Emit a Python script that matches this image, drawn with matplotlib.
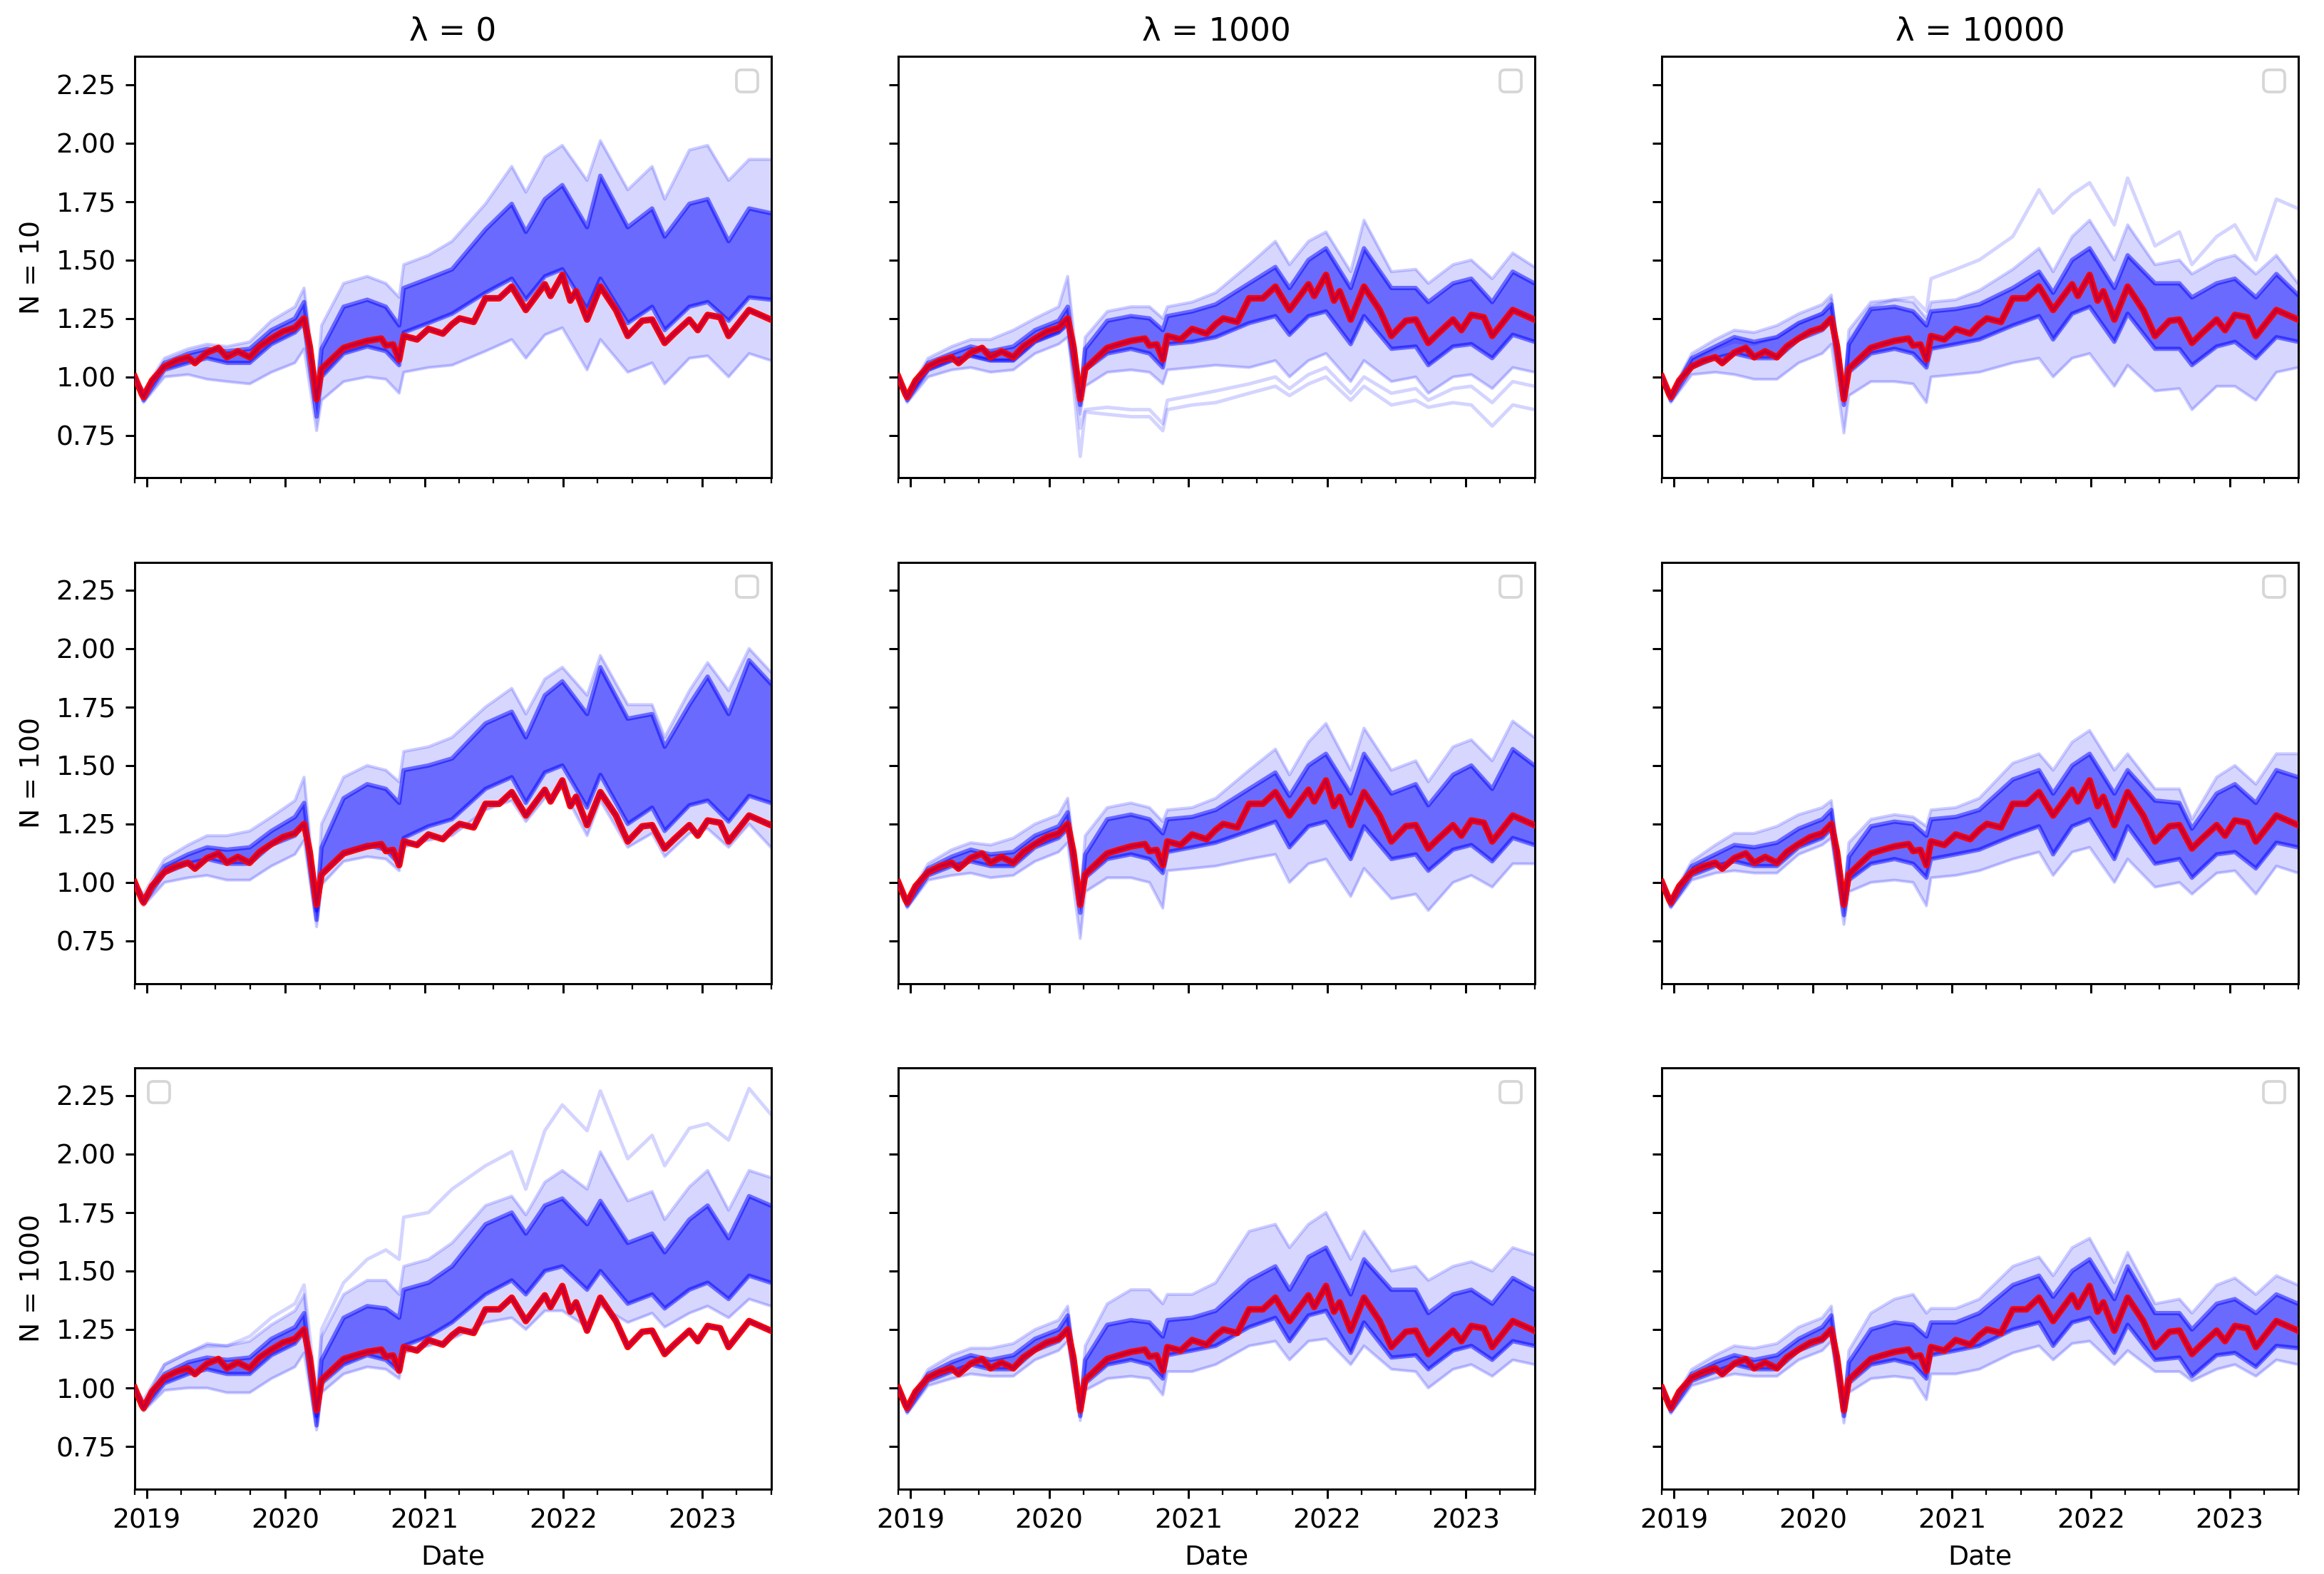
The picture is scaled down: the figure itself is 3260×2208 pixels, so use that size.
import matplotlib
matplotlib.use("Agg")
import matplotlib.pyplot as plt
import matplotlib.ticker as mticker
import pandas as pd

# ---------------- data ----------------
lambdas = ["0", "1000", "10000"]
n_values = ["10", "100", "1000"]
year_labels = ["2019", "2020", "2021", "2022", "2023"]
y_ticks = [0.75, 1.00, 1.25, 1.50, 1.75, 2.00, 2.25]

bench_dates = ["2018-12-01", "2018-12-20", "2018-12-24", "2019-01-15", "2019-02-17", "2019-03-20",
               "2019-04-20", "2019-05-08", "2019-06-09", "2019-07-09", "2019-07-31", "2019-08-29",
               "2019-09-29", "2019-10-25", "2019-11-25", "2019-12-26", "2020-01-26", "2020-02-19",
               "2020-03-05", "2020-03-23", "2020-04-05", "2020-05-07", "2020-06-02", "2020-07-02",
               "2020-08-03", "2020-09-09", "2020-09-21", "2020-10-10", "2020-10-26", "2020-11-07",
               "2020-12-12", "2021-01-11", "2021-02-18", "2021-03-14", "2021-04-03", "2021-05-10",
               "2021-06-10", "2021-07-16", "2021-08-18", "2021-09-24", "2021-11-13", "2021-11-28",
               "2021-12-29", "2022-01-19", "2022-02-03", "2022-03-04", "2022-04-08", "2022-05-19",
               "2022-06-19", "2022-07-27", "2022-08-22", "2022-09-24", "2022-10-19", "2022-11-28",
               "2022-12-20", "2023-01-15", "2023-02-17", "2023-03-11", "2023-05-04", "2023-06-30"]
bench_values = [1.000, 0.925, 0.914, 0.984, 1.044, 1.069, 1.084, 1.059, 1.104, 1.124, 1.084, 1.109,
                1.084, 1.130, 1.164, 1.194, 1.210, 1.250, 1.130, 0.905, 1.034, 1.084, 1.124, 1.139,
                1.154, 1.164, 1.134, 1.139, 1.074, 1.175, 1.160, 1.205, 1.185, 1.225, 1.250, 1.235,
                1.336, 1.336, 1.386, 1.286, 1.396, 1.346, 1.436, 1.326, 1.366, 1.245, 1.386, 1.286,
                1.175, 1.240, 1.245, 1.145, 1.185, 1.245, 1.200, 1.265, 1.255, 1.175, 1.286, 1.245]

grid_dates = ["2018-12-01", "2018-12-24", "2019-02-17", "2019-04-20", "2019-06-09", "2019-07-31",
              "2019-09-29", "2019-11-25", "2020-01-26", "2020-02-19", "2020-03-23", "2020-04-05",
              "2020-06-02", "2020-08-03", "2020-09-21", "2020-10-26", "2020-11-07", "2021-01-11",
              "2021-03-14", "2021-06-10", "2021-08-18", "2021-09-24", "2021-11-13", "2021-12-29",
              "2022-03-04", "2022-04-08", "2022-06-19", "2022-08-22", "2022-09-24", "2022-11-28",
              "2023-01-15", "2023-03-11", "2023-05-04", "2023-06-30"]

# lambda = 0, N = 10
p00_hi_out = [1.00,0.94,1.08,1.12,1.14,1.13,1.15,1.24,1.30,1.38,0.95,1.22,1.40,1.43,1.40,1.34,1.48,1.52,1.58,1.74,1.90,1.79,1.94,1.99,1.84,2.01,1.80,1.90,1.76,1.97,1.99,1.84,1.93,1.93]
p00_hi_core = [1.00,0.93,1.06,1.10,1.12,1.11,1.12,1.20,1.25,1.32,0.90,1.12,1.30,1.33,1.30,1.22,1.38,1.42,1.46,1.63,1.74,1.62,1.76,1.82,1.64,1.86,1.64,1.72,1.60,1.74,1.76,1.58,1.72,1.70]
p00_lo_core = [1.00,0.90,1.03,1.06,1.08,1.06,1.06,1.14,1.19,1.23,0.83,1.00,1.10,1.13,1.11,1.05,1.19,1.23,1.27,1.36,1.42,1.33,1.43,1.46,1.29,1.42,1.23,1.30,1.20,1.30,1.32,1.24,1.34,1.33]
p00_lo_out = [1.00,0.89,1.00,1.01,0.99,0.98,0.97,1.02,1.06,1.12,0.77,0.90,0.98,1.00,0.99,0.93,1.02,1.04,1.05,1.11,1.16,1.08,1.18,1.21,1.03,1.16,1.02,1.06,0.97,1.08,1.09,1.00,1.10,1.07]

# lambda = 0, N = 100
p10_hi_out = [1.00,0.95,1.10,1.16,1.20,1.20,1.22,1.28,1.35,1.45,0.90,1.25,1.45,1.50,1.48,1.43,1.56,1.58,1.62,1.75,1.83,1.72,1.87,1.92,1.80,1.97,1.76,1.76,1.62,1.82,1.94,1.82,2.00,1.90]
p10_hi_core = [1.00,0.93,1.07,1.12,1.15,1.14,1.15,1.22,1.28,1.34,0.88,1.15,1.36,1.42,1.40,1.34,1.48,1.50,1.53,1.68,1.73,1.62,1.80,1.86,1.72,1.92,1.70,1.72,1.58,1.76,1.88,1.72,1.95,1.85]
p10_lo_core = [1.00,0.91,1.04,1.08,1.10,1.08,1.08,1.16,1.20,1.25,0.84,1.03,1.13,1.16,1.14,1.08,1.19,1.24,1.27,1.40,1.45,1.34,1.47,1.50,1.32,1.46,1.25,1.32,1.22,1.33,1.35,1.26,1.37,1.34]
p10_lo_out = [1.00,0.90,1.00,1.02,1.03,1.01,1.01,1.07,1.12,1.18,0.81,0.99,1.09,1.11,1.10,1.05,1.15,1.18,1.20,1.31,1.35,1.26,1.36,1.40,1.20,1.35,1.15,1.21,1.11,1.21,1.23,1.15,1.25,1.15]

# lambda = 0, N = 1000
p20_hi_out = [1.00,0.95,1.10,1.15,1.19,1.18,1.20,1.27,1.33,1.40,0.90,1.22,1.40,1.46,1.46,1.40,1.52,1.55,1.62,1.78,1.82,1.74,1.88,1.93,1.85,2.01,1.80,1.84,1.72,1.86,1.93,1.76,1.93,1.90]
p20_hi_core = [1.00,0.93,1.06,1.11,1.13,1.12,1.13,1.21,1.26,1.32,0.88,1.12,1.30,1.35,1.34,1.30,1.42,1.45,1.52,1.70,1.75,1.66,1.78,1.81,1.70,1.80,1.62,1.66,1.58,1.72,1.78,1.64,1.82,1.78]
p20_lo_core = [1.00,0.91,1.02,1.06,1.08,1.06,1.06,1.14,1.19,1.24,0.84,1.02,1.10,1.14,1.12,1.07,1.18,1.22,1.28,1.40,1.46,1.40,1.50,1.52,1.42,1.50,1.36,1.40,1.34,1.42,1.45,1.38,1.48,1.45]
p20_lo_out = [1.00,0.90,0.99,1.00,1.00,0.98,0.98,1.04,1.09,1.15,0.82,0.98,1.06,1.09,1.08,1.04,1.15,1.18,1.21,1.28,1.30,1.25,1.33,1.33,1.26,1.35,1.28,1.32,1.26,1.32,1.35,1.30,1.38,1.35]
p20_top_path = [1.00,0.93,1.10,1.15,1.18,1.18,1.22,1.30,1.36,1.44,0.96,1.25,1.45,1.55,1.59,1.55,1.73,1.75,1.85,1.95,2.01,1.85,2.10,2.21,2.10,2.27,1.98,2.08,1.95,2.11,2.13,2.06,2.28,2.17]

# lambda = 1000, N = 10
p01_hi_out = [1.00,0.93,1.08,1.13,1.16,1.16,1.20,1.25,1.30,1.43,0.93,1.17,1.28,1.30,1.30,1.25,1.30,1.32,1.36,1.48,1.58,1.48,1.58,1.62,1.45,1.67,1.45,1.46,1.40,1.48,1.50,1.42,1.53,1.47]
p01_hi_core = [1.00,0.92,1.06,1.10,1.13,1.11,1.13,1.20,1.24,1.30,0.91,1.12,1.24,1.26,1.25,1.20,1.26,1.28,1.31,1.40,1.47,1.38,1.50,1.55,1.38,1.55,1.38,1.38,1.32,1.40,1.42,1.32,1.45,1.40]
p01_lo_core = [1.00,0.90,1.03,1.07,1.09,1.07,1.07,1.15,1.19,1.23,0.88,1.03,1.10,1.12,1.10,1.04,1.14,1.15,1.17,1.23,1.26,1.18,1.26,1.28,1.14,1.26,1.12,1.13,1.05,1.13,1.14,1.08,1.18,1.15]
p01_lo_out = [1.00,0.89,1.00,1.03,1.04,1.02,1.03,1.10,1.14,1.17,0.84,0.96,1.02,1.03,1.02,0.97,1.03,1.04,1.05,1.04,1.07,1.00,1.07,1.10,0.98,1.07,0.98,1.00,0.93,1.00,1.01,0.95,1.04,1.02]
p01_low_path_a = [1.00,0.91,1.03,1.07,1.09,1.07,1.07,1.15,1.19,1.22,0.66,0.85,0.84,0.83,0.83,0.77,0.86,0.88,0.89,0.93,0.96,0.92,0.97,1.00,0.90,0.96,0.88,0.90,0.87,0.89,0.88,0.79,0.88,0.86]
p01_low_path_b = [1.00,0.91,1.03,1.07,1.09,1.07,1.07,1.15,1.19,1.22,0.78,0.86,0.87,0.86,0.86,0.80,0.90,0.92,0.94,0.97,1.00,0.95,1.01,1.04,0.93,1.00,0.93,0.95,0.90,0.95,0.96,0.89,0.98,0.96]

# lambda = 1000, N = 100
p11_hi_out = [1.00,0.93,1.08,1.14,1.17,1.16,1.19,1.25,1.29,1.36,0.92,1.20,1.32,1.34,1.32,1.26,1.31,1.32,1.36,1.48,1.57,1.46,1.60,1.68,1.48,1.66,1.48,1.52,1.43,1.58,1.61,1.52,1.69,1.62]
p11_hi_core = [1.00,0.92,1.06,1.11,1.14,1.12,1.13,1.20,1.24,1.30,0.90,1.12,1.27,1.29,1.27,1.21,1.27,1.28,1.31,1.40,1.47,1.37,1.50,1.55,1.38,1.55,1.38,1.42,1.33,1.46,1.50,1.40,1.57,1.50]
p11_lo_core = [1.00,0.90,1.03,1.07,1.09,1.07,1.07,1.15,1.19,1.23,0.87,1.02,1.10,1.12,1.10,1.04,1.13,1.15,1.17,1.22,1.26,1.15,1.24,1.26,1.10,1.24,1.10,1.12,1.05,1.14,1.16,1.09,1.19,1.16]
p11_lo_out = [1.00,0.89,1.01,1.03,1.04,1.02,1.03,1.09,1.13,1.17,0.76,0.96,1.02,1.02,1.00,0.89,1.05,1.06,1.07,1.10,1.12,1.00,1.08,1.10,0.94,1.06,0.93,0.95,0.88,1.00,1.03,0.98,1.08,1.08]

# lambda = 1000, N = 1000
p21_hi_out = [1.00,0.93,1.08,1.14,1.17,1.17,1.19,1.25,1.29,1.35,0.92,1.18,1.36,1.42,1.42,1.36,1.40,1.40,1.45,1.67,1.70,1.60,1.70,1.75,1.55,1.67,1.50,1.52,1.46,1.52,1.54,1.50,1.60,1.57]
p21_hi_core = [1.00,0.92,1.06,1.11,1.14,1.12,1.14,1.21,1.25,1.31,0.91,1.12,1.27,1.29,1.28,1.22,1.29,1.30,1.33,1.46,1.52,1.42,1.56,1.60,1.40,1.55,1.42,1.42,1.32,1.40,1.42,1.36,1.47,1.42]
p21_lo_core = [1.00,0.90,1.03,1.07,1.10,1.08,1.08,1.16,1.20,1.24,0.88,1.02,1.10,1.12,1.10,1.04,1.14,1.16,1.18,1.26,1.30,1.20,1.31,1.33,1.15,1.28,1.13,1.14,1.08,1.16,1.18,1.12,1.20,1.18]
p21_lo_out = [1.00,0.89,1.01,1.04,1.06,1.05,1.05,1.12,1.16,1.20,0.86,0.99,1.04,1.05,1.04,0.97,1.07,1.07,1.10,1.18,1.20,1.12,1.20,1.21,1.10,1.18,1.08,1.07,1.00,1.08,1.10,1.05,1.12,1.10]

# lambda = 10000, N = 10
p02_hi_out = [1.00,0.93,1.10,1.16,1.20,1.19,1.22,1.27,1.31,1.35,0.93,1.20,1.32,1.33,1.32,1.25,1.32,1.33,1.37,1.46,1.55,1.45,1.60,1.67,1.50,1.65,1.48,1.50,1.44,1.50,1.52,1.44,1.52,1.40]
p02_hi_core = [1.00,0.92,1.08,1.13,1.17,1.15,1.17,1.23,1.27,1.31,0.91,1.14,1.29,1.30,1.28,1.22,1.28,1.29,1.31,1.38,1.45,1.36,1.50,1.55,1.38,1.52,1.40,1.40,1.34,1.40,1.42,1.34,1.44,1.35]
p02_lo_core = [1.00,0.90,1.04,1.08,1.10,1.08,1.08,1.16,1.20,1.24,0.88,1.02,1.10,1.12,1.10,1.04,1.12,1.14,1.16,1.22,1.26,1.16,1.27,1.30,1.15,1.27,1.12,1.12,1.05,1.13,1.15,1.08,1.17,1.15]
p02_lo_out = [1.00,0.89,1.01,1.02,1.01,0.99,0.99,1.06,1.10,1.14,0.76,0.92,0.98,0.98,0.97,0.89,1.00,1.01,1.02,1.06,1.08,1.00,1.08,1.10,0.96,1.05,0.94,0.95,0.86,0.96,0.96,0.90,1.02,1.04]
p02_top_path = [1.00,0.92,1.07,1.12,1.15,1.14,1.17,1.23,1.27,1.33,0.92,1.15,1.30,1.33,1.34,1.28,1.42,1.46,1.50,1.60,1.80,1.70,1.78,1.83,1.65,1.85,1.56,1.62,1.48,1.60,1.65,1.50,1.76,1.72]

# lambda = 10000, N = 100
p12_hi_out = [1.00,0.93,1.09,1.16,1.21,1.21,1.24,1.29,1.32,1.35,0.92,1.17,1.27,1.29,1.28,1.24,1.31,1.32,1.36,1.51,1.55,1.48,1.60,1.65,1.48,1.55,1.40,1.40,1.27,1.45,1.50,1.42,1.55,1.55]
p12_hi_core = [1.00,0.92,1.07,1.12,1.16,1.15,1.17,1.23,1.27,1.31,0.90,1.11,1.24,1.26,1.25,1.20,1.27,1.28,1.31,1.44,1.48,1.38,1.50,1.55,1.38,1.48,1.35,1.34,1.23,1.38,1.42,1.34,1.48,1.45]
p12_lo_core = [1.00,0.90,1.03,1.07,1.09,1.07,1.07,1.15,1.19,1.23,0.86,1.01,1.08,1.10,1.08,1.02,1.10,1.12,1.14,1.20,1.24,1.12,1.24,1.27,1.10,1.24,1.08,1.10,1.02,1.12,1.13,1.06,1.17,1.15]
p12_lo_out = [1.00,0.89,1.01,1.04,1.05,1.04,1.04,1.12,1.16,1.19,0.82,0.96,1.00,1.01,1.00,0.90,1.02,1.03,1.05,1.10,1.13,1.03,1.13,1.15,1.00,1.10,0.98,1.00,0.95,1.04,1.05,0.95,1.07,1.04]

# lambda = 10000, N = 1000
p22_hi_out = [1.00,0.93,1.08,1.14,1.18,1.17,1.19,1.26,1.30,1.35,0.92,1.16,1.32,1.38,1.40,1.32,1.34,1.34,1.38,1.52,1.56,1.48,1.60,1.64,1.45,1.58,1.36,1.38,1.32,1.44,1.47,1.40,1.48,1.44]
p22_hi_core = [1.00,0.92,1.06,1.11,1.14,1.12,1.14,1.21,1.26,1.31,0.91,1.11,1.25,1.28,1.27,1.22,1.28,1.28,1.32,1.44,1.48,1.39,1.50,1.55,1.38,1.52,1.32,1.32,1.25,1.36,1.38,1.32,1.40,1.36]
p22_lo_core = [1.00,0.90,1.03,1.07,1.10,1.08,1.08,1.16,1.20,1.24,0.88,1.02,1.10,1.12,1.10,1.04,1.14,1.16,1.18,1.25,1.28,1.18,1.28,1.30,1.15,1.27,1.12,1.13,1.05,1.14,1.15,1.09,1.18,1.17]
p22_lo_out = [1.00,0.89,1.01,1.04,1.06,1.05,1.05,1.12,1.16,1.20,0.85,0.98,1.04,1.05,1.04,0.95,1.06,1.06,1.08,1.15,1.18,1.12,1.19,1.20,1.10,1.16,1.07,1.07,1.03,1.08,1.10,1.05,1.12,1.10]

panels = {
    (0, 0): (p00_hi_out, p00_hi_core, p00_lo_core, p00_lo_out, []),
    (1, 0): (p10_hi_out, p10_hi_core, p10_lo_core, p10_lo_out, []),
    (2, 0): (p20_hi_out, p20_hi_core, p20_lo_core, p20_lo_out, [p20_top_path]),
    (0, 1): (p01_hi_out, p01_hi_core, p01_lo_core, p01_lo_out, [p01_low_path_a, p01_low_path_b]),
    (1, 1): (p11_hi_out, p11_hi_core, p11_lo_core, p11_lo_out, []),
    (2, 1): (p21_hi_out, p21_hi_core, p21_lo_core, p21_lo_out, []),
    (0, 2): (p02_hi_out, p02_hi_core, p02_lo_core, p02_lo_out, [p02_top_path]),
    (1, 2): (p12_hi_out, p12_hi_core, p12_lo_core, p12_lo_out, []),
    (2, 2): (p22_hi_out, p22_hi_core, p22_lo_core, p22_lo_out, []),
}

# ---------------- plotting ----------------
bx = pd.to_datetime(bench_dates)
gx = pd.to_datetime(grid_dates)

DPI = 3260 / 12.0
fig, axes = plt.subplots(3, 3, figsize=(12.0, 2208 / DPI), dpi=DPI, sharex=True, sharey=True)
fig.subplots_adjust(left=0.058, right=0.989, top=0.964, bottom=0.054, wspace=0.2, hspace=0.2)

year_ticks = pd.to_datetime([y + "-01-01" for y in year_labels])
minor_ticks = pd.to_datetime(["2018-12-01"] + [f"{y}-{m:02d}-01" for y in range(2019, 2024)
                                               for m in (4, 7, 10) if not (y == 2023 and m == 10)])

for (r, c), (hi_out, hi_core, lo_core, lo_out, extras) in panels.items():
    ax = axes[r, c]
    ax.fill_between(gx, lo_out, hi_out, color="blue", alpha=0.16, lw=0, zorder=1)
    ax.fill_between(gx, lo_core, hi_core, color="blue", alpha=0.5, lw=0, zorder=2)
    for s in (hi_out, lo_out):
        ax.plot(gx, s, color="blue", alpha=0.2, lw=1.1, zorder=3)
    for s in (hi_core, lo_core):
        ax.plot(gx, s, color="blue", alpha=0.5, lw=1.6, zorder=3)
    for s in extras:
        ax.plot(gx, s, color="blue", alpha=0.17, lw=1.3, zorder=3)
    ax.plot(bx, bench_values, color="red", lw=2.4, zorder=4, solid_joinstyle="round")
    ax.plot(bx, bench_values, color="blue", alpha=0.25, lw=1.0, zorder=5)

    ax.set_xlim(pd.Timestamp("2018-12-01"), pd.Timestamp("2023-07-01"))
    ax.set_ylim(0.568, 2.369)
    ax.set_yticks(y_ticks)
    ax.yaxis.set_major_formatter(mticker.FormatStrFormatter("%.2f"))
    ax.set_xticks(year_ticks)
    ax.set_xticklabels(year_labels)
    ax.set_xticks(minor_ticks, minor=True)

    ax.legend(handles=[], loc="upper left" if (r, c) == (2, 0) else "upper right")

    if r == 0:
        ax.set_title(f"\u03bb = {lambdas[c]}")
    if c == 0:
        ax.set_ylabel(f"N = {n_values[r]}")
    if r == 2:
        ax.set_xlabel("Date")
        ax.tick_params(axis="x", labelbottom=True)

fig.savefig("out.png", dpi=DPI)
